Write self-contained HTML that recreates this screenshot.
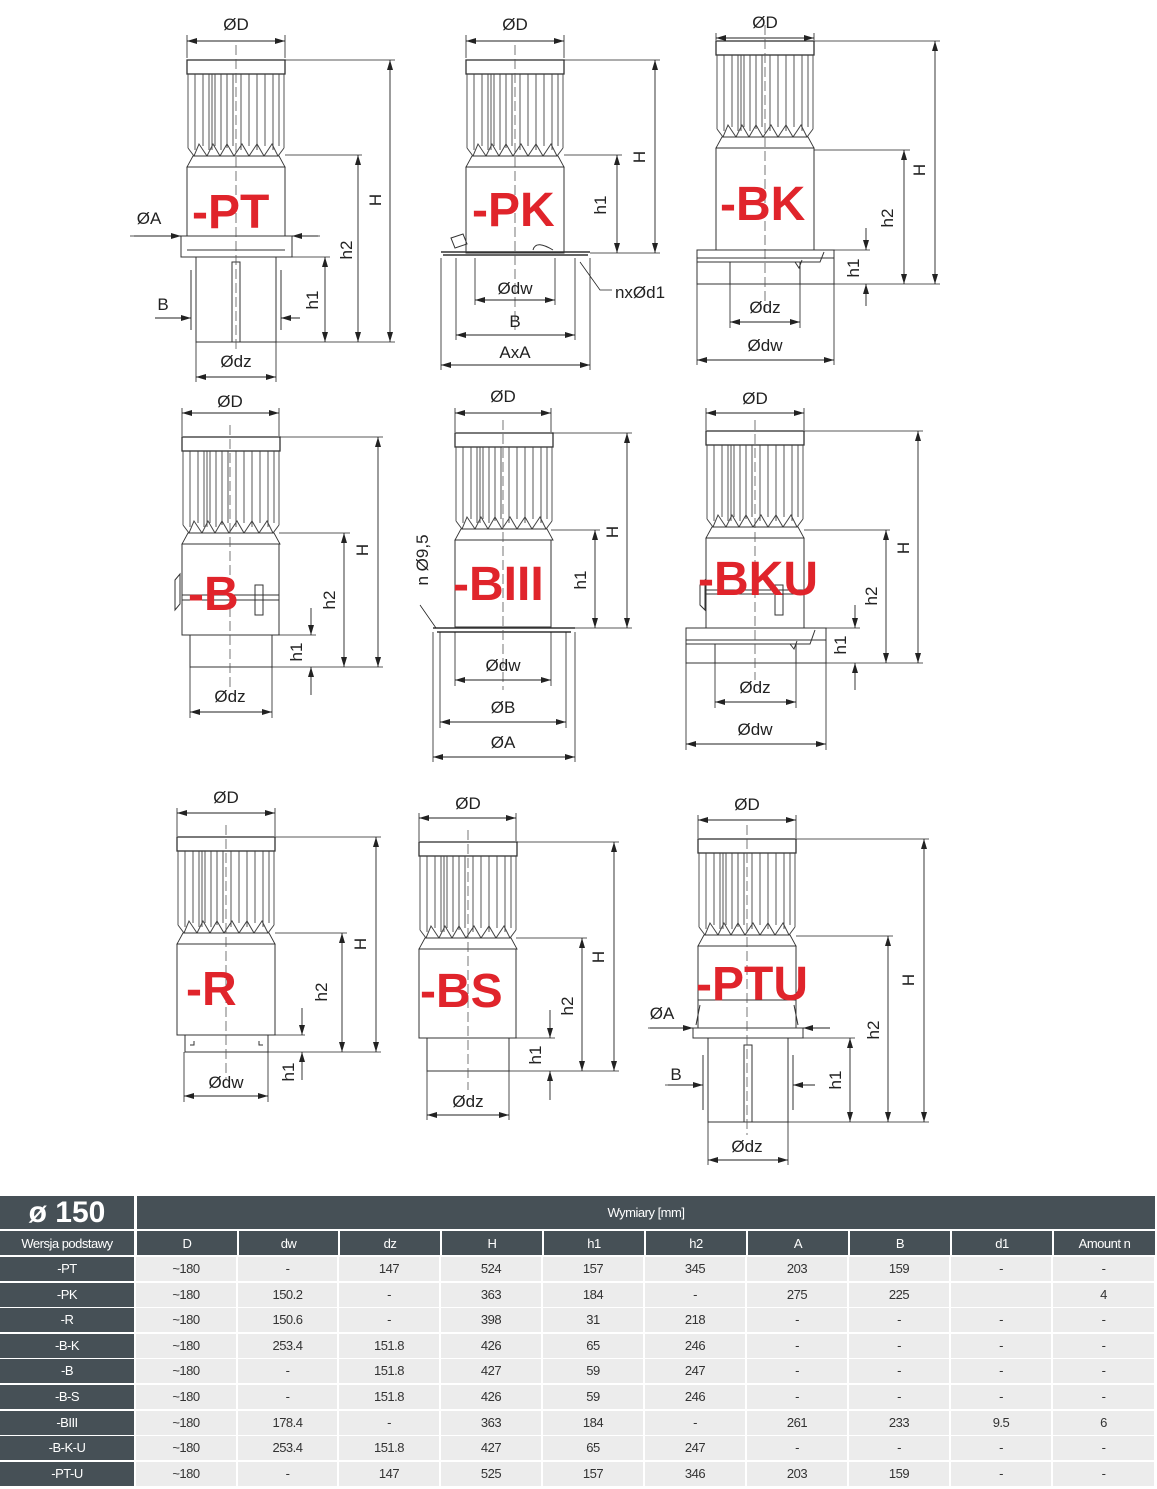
<!DOCTYPE html>
<html><head><meta charset="utf-8"><style>
body{margin:0;background:#fff;width:1157px;height:1489px;overflow:hidden;position:relative;font-family:"Liberation Sans",sans-serif}
svg{position:absolute;left:0;top:0}
.t{position:absolute;box-sizing:border-box;display:flex;align-items:center;justify-content:center;font-size:13px;letter-spacing:-0.5px;font-family:"Liberation Sans",sans-serif}
.d{background:#465056;color:#fff}
.l{background:#ececec;color:#333}
</style></head><body>
<svg width="1157" height="1190" viewBox="0 0 1157 1190" xmlns="http://www.w3.org/2000/svg">
<defs>
<marker id="a" viewBox="0 0 10 6" refX="10" refY="3" markerWidth="10" markerHeight="6" markerUnits="userSpaceOnUse" orient="auto"><path d="M0,0 L10,3 L0,6z" fill="#222"/></marker>
<marker id="s" viewBox="0 0 10 6" refX="0" refY="3" markerWidth="10" markerHeight="6" markerUnits="userSpaceOnUse" orient="auto"><path d="M10,0 L0,3 L10,6z" fill="#222"/></marker>
<g id="head" fill="none" stroke="#444" stroke-width="0.9">
<rect x="0" y="0" width="98" height="14" fill="#fff" stroke="#333" stroke-width="1.3"/>
<path d="M1,14 V88 M97,14 V88 M8,14V90 M16,14V86 M22,14V90 M28,14V86 M34,14V90 M40,14V88 M46,14V86 M54,14V90 M62,14V86 M70,14V90 M78,14V86 M86,14V90 M92,14V86 M25,14V90"/>
<path d="M1,88 L7,96 L12,84 L20,96 L26,84 L33,96 L40,84 L47,96 L55,84 L62,96 L70,84 L77,96 L85,84 L91,96 L97,88" stroke-width="1"/>
<path d="M6,96 H92 L98,107 H0 Z" fill="#fff" stroke="#333"/>
</g>
</defs>
<g stroke="#333" fill="none" stroke-width="1">
<use href="#head" x="187" y="60"/>
<rect x="187" y="167" width="98" height="69"/>
<path d="M181,236 V257 H292 V236 M181,236 H292 M187,250 H285"/>
<path d="M196,257 V342 H276 V257 M191,270 V330 M281,270 V330"/>
<rect x="232" y="262" width="8" height="80"/>
<use href="#head" x="466" y="60"/>
<rect x="466" y="167" width="98" height="86"/>
<path d="M441,252 H590 M443,255 H588" stroke-width="1.6"/>
<path d="M451,238 l12,-4 l4,10 l-12,4z M533,250 c2,-8 10,-6 20,0"/>
<use href="#head" x="716" y="41"/>
<rect x="716" y="148" width="98" height="102"/>
<rect x="697" y="250" width="137" height="34"/>
<path d="M697,258 H834 M697,262 H820 L824,252 M730,262 V284 M800,262 V284 M795,262 l4,6 l3,-8"/>
<use href="#head" x="182" y="437"/>
<rect x="182" y="544" width="97" height="91"/>
<path d="M182,595 H279 M182,600 H279 M175,580 l5,-6 v30 l-5,6z M255,585 h8 v30 h-8z"/>
<path d="M190,635 V667 H272 V635"/>
<use href="#head" x="455" y="433"/>
<rect x="455" y="540" width="96" height="87"/>
<path d="M433,628 H575 M437,632 H571" stroke-width="1.6"/>
<use href="#head" x="706" y="431"/>
<rect x="706" y="538" width="98" height="90"/>
<path d="M706,590 H804 M706,594 H804 M700,585 l5,-5 v30 l-5,-5z M775,585 h8 v30 h-8z"/>
<rect x="686" y="628" width="140" height="35"/>
<path d="M686,640 H826 M686,644 H810 L815,630 M715,644 V663 M796,644 V663 M790,644 l4,5 l3,-8"/>
<use href="#head" x="177" y="837"/>
<rect x="177" y="944" width="98" height="91"/>
<path d="M185,1035 V1052 H268 V1035 M190,1045 h4 v-4 M263,1045 h-4 v-4"/>
<use href="#head" x="419" y="842"/>
<rect x="419" y="949" width="97" height="89"/>
<path d="M427,1038 V1071 H509 V1038"/>
<use href="#head" x="698" y="839"/>
<rect x="698" y="946" width="98" height="82"/>
<path d="M698,1000 H796 M700,1005 l-4,20 M794,1005 l4,20"/>
<rect x="693" y="1028" width="110" height="10"/>
<path d="M708,1038 V1122 H788 V1038 M703,1055 V1110 M793,1055 V1110"/>
<rect x="744" y="1045" width="8" height="77"/>
</g>
<g stroke="#555" stroke-width="0.8" stroke-dasharray="10,4">
<path d="M236,45V350 M515,45V330 M765,25V310 M230,425V690 M503,420V690 M755,420V680 M226,825V1080 M468,830V1090 M747,825V1135"/>
</g>
<g stroke="#222" stroke-width="0.8" fill="none">
<path d="M187,35V58 M285,35V58 M285,60H395 M285,155H362 M292,257H330 M276,342H395 M196,342V382 M276,342V382 M130,236H181 M292,236H320 M160,318H191 M281,318H300"/>
<path d="M466,35V58 M564,35V58 M564,60H660 M564,155H622 M590,253H660 M475,258V305 M555,258V305 M456,258V340 M575,258V340 M441,258V370 M590,258V370 M580,262 L600,290 H612"/>
<path d="M716,33V40 M814,33V40 M814,41H940 M814,150H910 M834,250H870 M834,284H940 M730,284V328 M800,284V328 M697,284V365 M834,284V365"/>
<path d="M182,408V436 M279,408V436 M279,437H383 M279,533H350 M279,635H316 M272,667H383 M190,667V718 M272,667V718"/>
<path d="M455,408V432 M551,408V432 M551,433H632 M551,530H600 M575,628H632 M455,632V686 M551,632V686 M440,632V728 M566,632V728 M433,632V762 M575,632V762 M436,628 L420,605"/>
<path d="M706,408V430 M804,408V430 M804,431H923 M804,530H890 M826,628H860 M826,663H923 M715,663V708 M796,663V708 M686,663V750 M826,663V750"/>
<path d="M177,808V836 M275,808V836 M275,837H381 M275,933H347 M275,1035H305 M268,1052H381 M184,1052V1102 M268,1052V1102"/>
<path d="M419,813V841 M516,813V841 M516,842H619 M516,938H587 M516,1038H555 M509,1071H619 M427,1071V1120 M509,1071V1120"/>
<path d="M698,815V838 M796,815V838 M796,839H929 M796,936H893 M803,1038H855 M788,1122H929 M708,1122V1165 M788,1122V1165 M648,1028H693 M803,1028H830 M665,1085H703 M793,1085H815"/>
</g>
<g stroke="#222" stroke-width="0.9" fill="none" marker-start="url(#s)" marker-end="url(#a)">
<path d="M187,41H285"/><path d="M390,60V342"/><path d="M358,155V342"/><path d="M325,257V342"/><path d="M196,377H276"/>
<path d="M466,41H564"/><path d="M655,60V253"/><path d="M617,155V253"/><path d="M475,300H555"/><path d="M456,335H575"/><path d="M441,365H590"/>
<path d="M716,38H814"/><path d="M935,41V284"/><path d="M904,150V284"/><path d="M730,322H800"/><path d="M697,360H834"/>
<path d="M182,413H279"/><path d="M378,437V667"/><path d="M344,533V667"/><path d="M190,712H272"/>
<path d="M455,413H551"/><path d="M627,433V628"/><path d="M595,530V628"/><path d="M455,680H551"/><path d="M440,722H566"/><path d="M433,757H575"/>
<path d="M706,413H804"/><path d="M918,431V663"/><path d="M886,530V663"/><path d="M715,702H796"/><path d="M686,744H826"/>
<path d="M177,813H275"/><path d="M376,837V1052"/><path d="M342,933V1052"/><path d="M184,1096H268"/>
<path d="M419,818H516"/><path d="M614,842V1071"/><path d="M582,938V1071"/><path d="M427,1115H509"/>
<path d="M698,820H796"/><path d="M924,839V1122"/><path d="M888,936V1122"/><path d="M850,1038V1122"/><path d="M708,1160H788"/>
</g>
<g stroke="#222" stroke-width="0.9" fill="none" marker-end="url(#a)">
<path d="M134,236H181"/><path d="M318,236H292"/><path d="M155,318H191"/><path d="M300,318H281"/>
<path d="M866,228V250"/><path d="M866,306V284"/>
<path d="M311,608V635"/><path d="M311,695V667"/>
<path d="M855,605V628"/><path d="M855,690V663"/>
<path d="M302,1008V1035"/><path d="M302,1080V1052"/>
<path d="M550,1010V1038"/><path d="M550,1100V1071"/>
<path d="M650,1028H693"/><path d="M830,1028H803"/><path d="M668,1085H703"/><path d="M815,1085H793"/>
</g>
<g font-family="Liberation Sans, sans-serif" font-size="17" fill="#222" text-anchor="middle">
<text x="236" y="30">ØD</text><text x="236" y="367">Ødz</text><text x="149" y="224">ØA</text><text x="163" y="310">B</text>
<text x="515" y="30">ØD</text><text x="515" y="294">Ødw</text><text x="515" y="327">B</text><text x="515" y="358">AxA</text><text x="640" y="298">nxØd1</text>
<text x="765" y="28">ØD</text><text x="765" y="313">Ødz</text><text x="765" y="351">Ødw</text>
<text x="230" y="407">ØD</text><text x="230" y="702">Ødz</text>
<text x="503" y="402">ØD</text><text x="503" y="671">Ødw</text><text x="503" y="713">ØB</text><text x="503" y="748">ØA</text>
<text x="755" y="404">ØD</text><text x="755" y="693">Ødz</text><text x="755" y="735">Ødw</text>
<text x="226" y="803">ØD</text><text x="226" y="1088">Ødw</text>
<text x="468" y="809">ØD</text><text x="468" y="1107">Ødz</text>
<text x="747" y="810">ØD</text><text x="747" y="1152">Ødz</text><text x="662" y="1019">ØA</text><text x="676" y="1080">B</text>
</g>
<g font-family="Liberation Sans, sans-serif" font-size="17" fill="#222" text-anchor="middle">
<text transform="translate(381,200) rotate(-90)">H</text><text transform="translate(352,250) rotate(-90)">h2</text><text transform="translate(318,300) rotate(-90)">h1</text>
<text transform="translate(645,157) rotate(-90)">H</text><text transform="translate(606,205) rotate(-90)">h1</text>
<text transform="translate(925,170) rotate(-90)">H</text><text transform="translate(893,218) rotate(-90)">h2</text><text transform="translate(859,268) rotate(-90)">h1</text>
<text transform="translate(368,550) rotate(-90)">H</text><text transform="translate(335,600) rotate(-90)">h2</text><text transform="translate(302,652) rotate(-90)">h1</text>
<text transform="translate(618,532) rotate(-90)">H</text><text transform="translate(586,580) rotate(-90)">h1</text><text transform="translate(428,560) rotate(-90)">n  Ø9,5</text>
<text transform="translate(909,548) rotate(-90)">H</text><text transform="translate(877,596) rotate(-90)">h2</text><text transform="translate(846,645) rotate(-90)">h1</text>
<text transform="translate(366,944) rotate(-90)">H</text><text transform="translate(327,992) rotate(-90)">h2</text><text transform="translate(294,1072) rotate(-90)">h1</text>
<text transform="translate(604,957) rotate(-90)">H</text><text transform="translate(573,1006) rotate(-90)">h2</text><text transform="translate(541,1055) rotate(-90)">h1</text>
<text transform="translate(914,980) rotate(-90)">H</text><text transform="translate(879,1030) rotate(-90)">h2</text><text transform="translate(841,1080) rotate(-90)">h1</text>
</g>
<g font-family="Liberation Sans, sans-serif" font-size="48" font-weight="bold" fill="#e0242b">
<text x="192" y="228">-PT</text><text x="472" y="226">-PK</text><text x="720" y="220">-BK</text>
<text x="188" y="610">-B</text><text x="453" y="600">-BIII</text><text x="698" y="595">-BKU</text>
<text x="186" y="1005">-R</text><text x="420" y="1007">-BS</text><text x="696" y="1000">-PTU</text>
</g>
</svg>

<div class="t d" style="left:0;top:1196px;width:134px;height:33px;font-size:30px;font-weight:bold;letter-spacing:0">ø 150</div>
<div class="t d" style="left:137px;top:1196px;width:1018px;height:33px">Wymiary [mm]</div>
<div class="t d" style="left:0;top:1231px;width:134px;height:24px">Wersja podstawy</div>
<div class="t d" style="left:137px;top:1231px;width:100px;height:24px">D</div>
<div class="t d" style="left:239px;top:1231px;width:99px;height:24px">dw</div>
<div class="t d" style="left:340px;top:1231px;width:100px;height:24px">dz</div>
<div class="t d" style="left:442px;top:1231px;width:100px;height:24px">H</div>
<div class="t d" style="left:544px;top:1231px;width:100px;height:24px">h1</div>
<div class="t d" style="left:646px;top:1231px;width:100px;height:24px">h2</div>
<div class="t d" style="left:748px;top:1231px;width:100px;height:24px">A</div>
<div class="t d" style="left:850px;top:1231px;width:100px;height:24px">B</div>
<div class="t d" style="left:952px;top:1231px;width:100px;height:24px">d1</div>
<div class="t d" style="left:1054px;top:1231px;width:101px;height:24px">Amount n</div>

<div style="position:absolute;left:0;top:1257px;width:1157px">
<div style="display:grid;grid-template-columns:134px 100px 99px 100px 100px 100px 100px 100px 100px 100px 101px;column-gap:2px;row-gap:1.6px;grid-auto-rows:24px;font-size:13px;letter-spacing:-0.5px;text-align:center;line-height:24px">
<div class="d">-PT</div><div class="l">~180</div><div class="l">-</div><div class="l">147</div><div class="l">524</div><div class="l">157</div><div class="l">345</div><div class="l">203</div><div class="l">159</div><div class="l">-</div><div class="l">-</div>
<div class="d">-PK</div><div class="l">~180</div><div class="l">150.2</div><div class="l">-</div><div class="l">363</div><div class="l">184</div><div class="l">-</div><div class="l">275</div><div class="l">225</div><div class="l"></div><div class="l">4</div>
<div class="d">-R</div><div class="l">~180</div><div class="l">150.6</div><div class="l">-</div><div class="l">398</div><div class="l">31</div><div class="l">218</div><div class="l">-</div><div class="l">-</div><div class="l">-</div><div class="l">-</div>
<div class="d">-B-K</div><div class="l">~180</div><div class="l">253.4</div><div class="l">151.8</div><div class="l">426</div><div class="l">65</div><div class="l">246</div><div class="l">-</div><div class="l">-</div><div class="l">-</div><div class="l">-</div>
<div class="d">-B</div><div class="l">~180</div><div class="l">-</div><div class="l">151.8</div><div class="l">427</div><div class="l">59</div><div class="l">247</div><div class="l">-</div><div class="l">-</div><div class="l">-</div><div class="l">-</div>
<div class="d">-B-S</div><div class="l">~180</div><div class="l">-</div><div class="l">151.8</div><div class="l">426</div><div class="l">59</div><div class="l">246</div><div class="l">-</div><div class="l">-</div><div class="l">-</div><div class="l">-</div>
<div class="d">-BIII</div><div class="l">~180</div><div class="l">178.4</div><div class="l">-</div><div class="l">363</div><div class="l">184</div><div class="l">-</div><div class="l">261</div><div class="l">233</div><div class="l">9.5</div><div class="l">6</div>
<div class="d">-B-K-U</div><div class="l">~180</div><div class="l">253.4</div><div class="l">151.8</div><div class="l">427</div><div class="l">65</div><div class="l">247</div><div class="l">-</div><div class="l">-</div><div class="l">-</div><div class="l">-</div>
<div class="d">-PT-U</div><div class="l">~180</div><div class="l">-</div><div class="l">147</div><div class="l">525</div><div class="l">157</div><div class="l">346</div><div class="l">203</div><div class="l">159</div><div class="l">-</div><div class="l">-</div>
</div></div>
</body></html>
